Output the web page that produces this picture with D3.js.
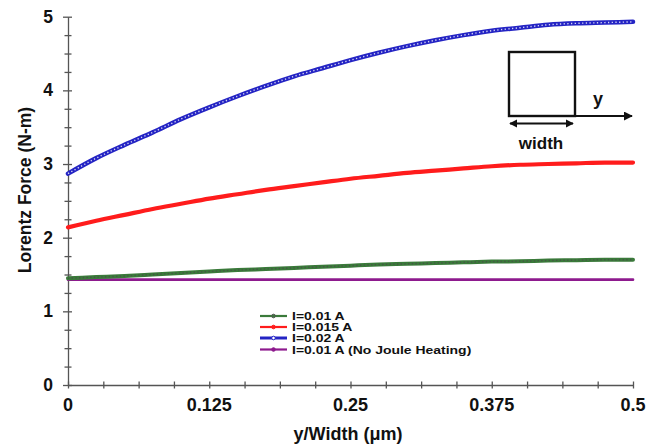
<!DOCTYPE html>
<html>
<head>
<meta charset="utf-8">
<script src="https://cdn.jsdelivr.net/npm/d3@7"></script>
<style>
	body { margin: 0; background: #fff; }
	svg { display: block; font-family: Arial, "Liberation Sans", sans-serif; font-weight: bold; }
</style>
</head>
<body>
<script>
// values
const xValues = [0, 0.025, 0.05, 0.075, 0.1, 0.125, 0.15, 0.175, 0.2, 0.225, 0.25,
	0.275, 0.3, 0.325, 0.35, 0.375, 0.4, 0.425, 0.45, 0.475, 0.5];
const blueValues = [2.87, 3.08, 3.26, 3.43, 3.61, 3.77, 3.92, 4.06, 4.19, 4.30, 4.41,
	4.51, 4.60, 4.68, 4.75, 4.81, 4.85, 4.89, 4.91, 4.92, 4.93];
const redValues = [2.14, 2.23, 2.31, 2.39, 2.46, 2.53, 2.59, 2.65, 2.70, 2.75, 2.80,
	2.84, 2.88, 2.91, 2.94, 2.97, 2.99, 3.00, 3.01, 3.02, 3.02];
const greenValues = [1.45, 1.465, 1.48, 1.50, 1.52, 1.54, 1.56, 1.575, 1.59, 1.605, 1.62,
	1.635, 1.645, 1.655, 1.665, 1.675, 1.68, 1.69, 1.695, 1.70, 1.70];
const purpleValues = [1.43, 1.43, 1.43, 1.43, 1.43, 1.43, 1.43, 1.43, 1.43, 1.43, 1.43,
	1.43, 1.43, 1.43, 1.43, 1.43, 1.43, 1.43, 1.43, 1.43, 1.43];
const legendLabels = ['I=0.01 A', 'I=0.015 A', 'I=0.02 A', 'I=0.01 A (No Joule Heating)'];
const xTickLabels = ['0', '0.125', '0.25', '0.375', '0.5'];
const xMajor = [0, 0.125, 0.25, 0.375, 0.5];
const yMajor = [0, 1, 2, 3, 4, 5];

const width = 659, height = 446;
const svg = d3.select('body').append('svg')
	.attr('width', width)
	.attr('height', height);

const x = d3.scaleLinear().domain([0, 0.5]).range([68, 633]);
const y = d3.scaleLinear().domain([0, 5]).range([385, 16.7]);

// axes
let xMinor = d3.range(0, 0.5001, 0.03125);
let yMinor = d3.range(0, 5.001, 0.25);

let gx = svg.append('g').attr('transform', `translate(0,${y(0)})`);
gx.call(d3.axisBottom(x).tickValues(xMinor).tickFormat('').tickSizeOuter(0));
gx.selectAll('.tick line').attr('y1', -3.5).attr('y2', 3.5);
gx.selectAll('.tick line, .domain').attr('stroke', '#555').attr('stroke-width', 1.3);

gx.selectAll('text.lbl')
	.data(xMajor)
	.enter().append('text')
	.attr('x', d => x(d))
	.attr('y', 26)
	.attr('text-anchor', 'middle')
	.style('font-size', '18px')
	.attr('fill', '#111')
	.text((d, i) => xTickLabels[i]);

let gy = svg.append('g').attr('transform', `translate(${x(0)},0)`);
gy.call(d3.axisLeft(y).tickValues(yMinor).tickFormat('').tickSizeOuter(0));
gy.selectAll('.tick line')
	.attr('x1', d => Number.isInteger(d) ? -5 : -3.5)
	.attr('x2', d => Number.isInteger(d) ? 4 : 3.5);
gy.selectAll('.tick line, .domain').attr('stroke', '#555').attr('stroke-width', 1.3);

gy.selectAll('text.lbl')
	.data(yMajor)
	.enter().append('text')
	.attr('x', -15)
	.attr('y', d => y(d) + 6)
	.attr('text-anchor', 'end')
	.style('font-size', '17.5px')
	.attr('fill', '#111')
	.text(d => d);

// axis titles
svg.append('text')
	.attr('transform', 'translate(31,190) rotate(-90)')
	.attr('text-anchor', 'middle')
	.style('font-size', '17.5px')
	.attr('fill', '#111')
	.text('Lorentz Force (N-m)');

svg.append('text')
	.attr('x', 348)
	.attr('y', 440)
	.attr('text-anchor', 'middle')
	.style('font-size', '18px')
	.attr('fill', '#111')
	.text('y/Width (\u03bcm)');

// series
const series = [
	{ values: purpleValues, color: '#8e1a8e', w: 2.6, dash: null },
	{ values: greenValues, color: '#3a7a3a', w: 4, dash: '#4a4a4a' },
	{ values: redValues, color: '#ff1c1c', w: 4.2, dash: null },
	{ values: blueValues, color: '#2424c4', w: 4.5, dash: '#fff' }
];

const line = d3.line()
	.x((d, i) => x(xValues[i]))
	.y(d => y(d))
	.curve(d3.curveMonotoneX);

for (let s of series) {
	svg.append('path')
		.attr('d', line(s.values))
		.attr('fill', 'none')
		.attr('stroke', s.color)
		.attr('stroke-width', s.w)
		.attr('stroke-linecap', 'round');
	if (s.dash) {
		svg.append('path')
			.attr('d', line(s.values))
			.attr('fill', 'none')
			.attr('stroke', s.dash)
			.attr('stroke-width', 1.4)
			.attr('stroke-dasharray', '1.3,2.4')
			.attr('opacity', 0.8);
	}
}

// legend
const legendColors = ['#3a7a3a', '#ff1c1c', '#2424c4', '#8e1a8e'];
const legendY = [316, 327, 338, 349.5];
let lg = svg.append('g');
legendLabels.forEach((lbl, i) => {
	lg.append('line')
		.attr('x1', 260).attr('x2', 287)
		.attr('y1', legendY[i]).attr('y2', legendY[i])
		.attr('stroke', legendColors[i])
		.attr('stroke-width', i == 2 ? 3 : 2.2);
	lg.append('circle')
		.attr('cx', 273.5).attr('cy', legendY[i])
		.attr('r', 1.8)
		.attr('fill', i == 2 ? '#fff' : legendColors[i])
		.attr('stroke', i == 1 ? '#ff1c1c' : i == 0 ? '#555' : legendColors[i])
		.attr('stroke-width', 1);
	lg.append('text')
		.attr('transform', `translate(292,${legendY[i] + 4}) scale(1.27,1)`)
		.style('font-size', '11px')
		.attr('fill', '#111')
		.text(lbl);
});

// inset sketch
let inset = svg.append('g');
let defs = svg.append('defs');
defs.append('marker')
	.attr('id', 'arr')
	.attr('viewBox', '0 0 10 10')
	.attr('refX', 9).attr('refY', 5)
	.attr('markerWidth', 4.5).attr('markerHeight', 4.5)
	.attr('orient', 'auto-start-reverse')
	.append('path')
	.attr('d', 'M0,0L10,5L0,10z')
	.attr('fill', '#111');

inset.append('rect')
	.attr('x', 509).attr('y', 52)
	.attr('width', 66).attr('height', 64)
	.attr('fill', 'none')
	.attr('stroke', '#111')
	.attr('stroke-width', 2.4);
inset.append('line')
	.attr('x1', 575).attr('y1', 116)
	.attr('x2', 632).attr('y2', 116)
	.attr('stroke', '#111').attr('stroke-width', 2)
	.attr('marker-end', 'url(#arr)');
inset.append('line')
	.attr('x1', 510).attr('y1', 123.5)
	.attr('x2', 573).attr('y2', 123.5)
	.attr('stroke', '#111').attr('stroke-width', 1.8)
	.attr('marker-start', 'url(#arr)')
	.attr('marker-end', 'url(#arr)');
inset.append('text')
	.attr('x', 598).attr('y', 105)
	.attr('text-anchor', 'middle')
	.style('font-size', '18px')
	.attr('fill', '#111')
	.text('y');
inset.append('text')
	.attr('x', 541).attr('y', 149)
	.attr('text-anchor', 'middle')
	.style('font-size', '17px')
	.attr('fill', '#111')
	.text('width');
</script>
</body>
</html>
